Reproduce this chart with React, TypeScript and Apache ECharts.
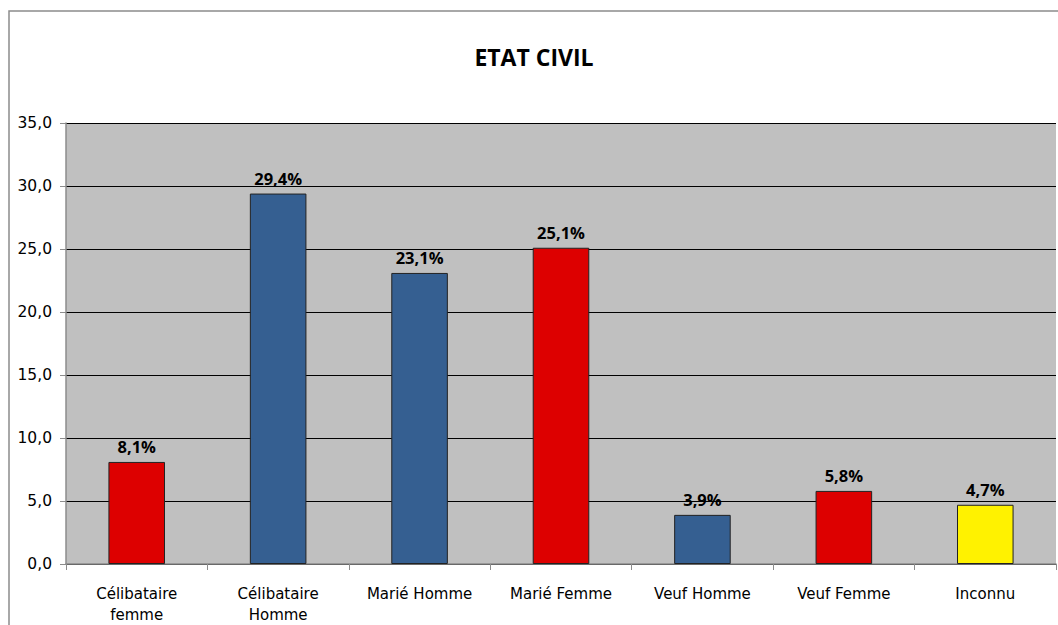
import React, { useEffect, useRef } from "react";
import * as echarts from "echarts";

const categories = ["Célibataire\nfemme", "Célibataire\nHomme", "Marié Homme", "Marié Femme", "Veuf Homme", "Veuf Femme", "Inconnu"];
const values = [8.1, 29.4, 23.1, 25.1, 3.9, 5.8, 4.7];
const barColors = ["#DD0000", "#355F91", "#355F91", "#DD0000", "#355F91", "#DD0000", "#FFF200"];
const yTicks = [0, 5, 10, 15, 20, 25, 30, 35];
const title = "ETAT CIVIL";

const FONT = "'Open Sans', 'Noto Sans', sans-serif";
const AXFONT = "'DejaVu Sans', sans-serif";

export default function App() {
  const ref = useRef<HTMLDivElement>(null);
  useEffect(() => {
    document.body.style.margin = "0";
    const chart = echarts.init(ref.current!, null, { renderer: "svg" });
    chart.setOption({
      animation: false,
      backgroundColor: "#ffffff",
      title: {
        text: title,
        left: 529,
        textAlign: "center",
        top: 40,
        textStyle: { fontFamily: FONT, fontWeight: "bold", fontSize: 23, color: "#000" },
      },
      graphic: [
        {
          type: "rect",
          shape: { x: 9, y: 11, width: 1200, height: 800 },
          style: { fill: "none", stroke: "#8c8c8c", lineWidth: 1.5 },
          silent: true,
        },
      ],
      grid: {
        left: 66,
        right: 2,
        top: 123,
        bottom: 61,
        show: true,
        backgroundColor: "#C0C0C0",
        borderWidth: 0,
        containLabel: false,
        outerBoundsMode: "none",
      },
      xAxis: {
        type: "category",
        data: categories,
        axisLine: { show: true, lineStyle: { color: "#8c8c8c", width: 1.5 } },
        axisTick: { show: true, length: 6, lineStyle: { color: "#8c8c8c" } },
        axisLabel: {
          fontFamily: AXFONT,
          fontSize: 15,
          color: "#000",
          margin: 19,
          lineHeight: 21,
          interval: 0,
        },
      },
      yAxis: {
        type: "value",
        min: 0,
        max: 35,
        interval: 5,
        axisLine: { show: true, lineStyle: { color: "#8c8c8c", width: 1.5 } },
        axisTick: { show: true, length: 6, lineStyle: { color: "#8c8c8c" } },
        splitLine: { show: true, lineStyle: { color: "#000", width: 1 } },
        axisLabel: {
          fontFamily: AXFONT,
          fontSize: 15.5,
          color: "#000",
          margin: 14,
          padding: [8, 0, 0, 0],
          formatter: (v: number) => (yTicks.includes(v) ? v.toFixed(1).replace(".", ",") : ""),
        },
      },
      series: [
        {
          type: "bar",
          data: values.map((v, i) => ({ value: v, itemStyle: { color: barColors[i] } })),
          barWidth: "40%",
          itemStyle: { borderColor: "#222", borderWidth: 1 },
          label: {
            show: true,
            position: "top",
            distance: 7,
            fontFamily: FONT,
            fontWeight: "bold",
            fontSize: 16.5,
            color: "#000",
            formatter: (p: any) => p.value.toFixed(1).replace(".", ",") + "%",
          },
        },
      ],
    });
    return () => chart.dispose();
  }, []);
  return <div ref={ref} style={{ position: "absolute", left: 0, top: 0, width: 1058, height: 625 }} />;
}
